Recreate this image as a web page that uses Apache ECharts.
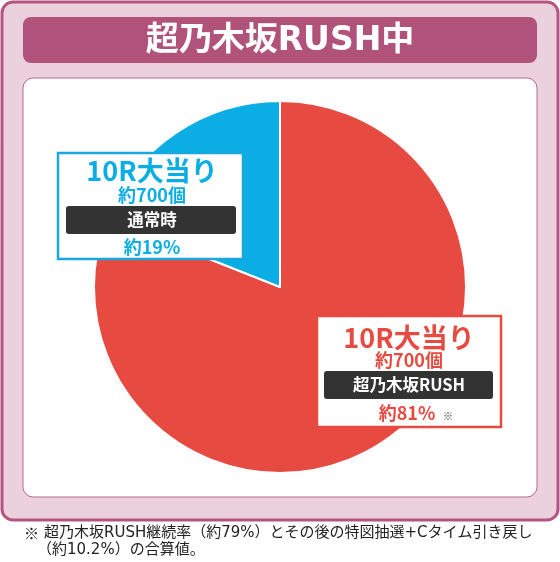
<!DOCTYPE html>
<html><head><meta charset="utf-8">
<script src="https://cdn.jsdelivr.net/npm/echarts@6/dist/echarts.min.js"></script>
<style>html,body{margin:0;padding:0;background:#fff}#c{width:560px;height:562px}</style>
</head><body><div id="c"></div>
<script>
const titleText = '超乃木坂RUSH中';
const categories = ['超乃木坂RUSH', '通常時'];
const shares = [81, 19];
const shareLabels = ['約81%', '約19%'];
const rounds = ['10R大当り', '10R大当り'];
const payouts = ['約700個', '約700個'];
const colors = ['#e64a41', '#0badE5'];
const noteLine1 = '超乃木坂RUSH継続率（約79%）とその後の特図抽選+Cタイム引き戻し';
const noteLine2 = '（約10.2%）の合算値。';

const FF = '"Noto Sans CJK JP", "Noto Sans", sans-serif';
const FW = '"DejaVu Sans", "Noto Sans CJK JP", sans-serif';
const chart = echarts.init(document.getElementById('c'), null, {renderer: 'canvas'});

function txt(x, y, text, size, color, weight, align, z, family) {
  return {type: 'text', x: x, y: y, z: z || 100,
    style: {text: text, fontSize: size, fontWeight: weight || 'bold', fontFamily: family || FF,
      fill: color, align: align || 'center', verticalAlign: 'middle'}};
}
function labelBox(cx, box, bar, ys, idx, borderColor) {
  const c = colors[idx];
  const els = [
    {type: 'rect', z: 99, shape: box, style: {fill: '#fff', stroke: borderColor, lineWidth: 2.5}},
    txt(cx, ys[0], rounds[idx], 27, c),
    txt(cx, ys[1], payouts[idx], 18, c),
    {type: 'rect', z: 99, shape: Object.assign({r: 3}, bar), style: {fill: '#333333'}},
    txt(cx, bar.y + bar.height / 2, categories[idx], 16.5, '#ffffff'),
    txt(cx - (idx === 0 ? 2 : 0), ys[2], shareLabels[idx], 18, c)
  ];
  return els;
}

const graphics = [
  {type: 'rect', z: -10, shape: {x: 2, y: 2, width: 556, height: 518, r: 11},
    style: {fill: '#ebd0de', stroke: '#b5547f', lineWidth: 3}},
  {type: 'rect', z: -9, shape: {x: 23, y: 17, width: 514, height: 46, r: 8},
    style: {fill: '#b05279'}},
  txt(280, 41, titleText, 33, '#ffffff', 'bold', 'center', -8, FW),
  {type: 'rect', z: -9, shape: {x: 23, y: 78, width: 514, height: 419, r: 10},
    style: {fill: '#ffffff', stroke: '#b86a8e', lineWidth: 1}},
  ...labelBox(152, {x: 58, y: 153, width: 185, height: 106},
    {x: 66, y: 206, width: 170, height: 28}, [171, 195, 247], 1, '#1aa7de'),
  ...labelBox(409, {x: 317, y: 316, width: 184, height: 111},
    {x: 324, y: 371, width: 169, height: 28}, [338, 360, 413], 0, '#e64a41'),
  txt(448, 416, '※', 10, '#333333', 'bold', 'center', 101),
  txt(24, 533, '※', 15, '#222222', 'normal', 'left', 5),
  txt(44, 533, noteLine1, 15, '#222222', 'normal', 'left', 5, FW),
  txt(37, 550, noteLine2, 15, '#222222', 'normal', 'left', 5, FW)
];

chart.setOption({
  animation: false,
  graphic: graphics,
  series: [{
    type: 'pie',
    center: [280, 287],
    radius: 186,
    startAngle: 90,
    clockwise: true,
    silent: true,
    label: {show: false},
    labelLine: {show: false},
    itemStyle: {borderColor: '#ffffff', borderWidth: 2},
    data: categories.map((n, i) => ({name: n, value: shares[i], itemStyle: {color: colors[i]}}))
  }]
});
</script></body></html>
